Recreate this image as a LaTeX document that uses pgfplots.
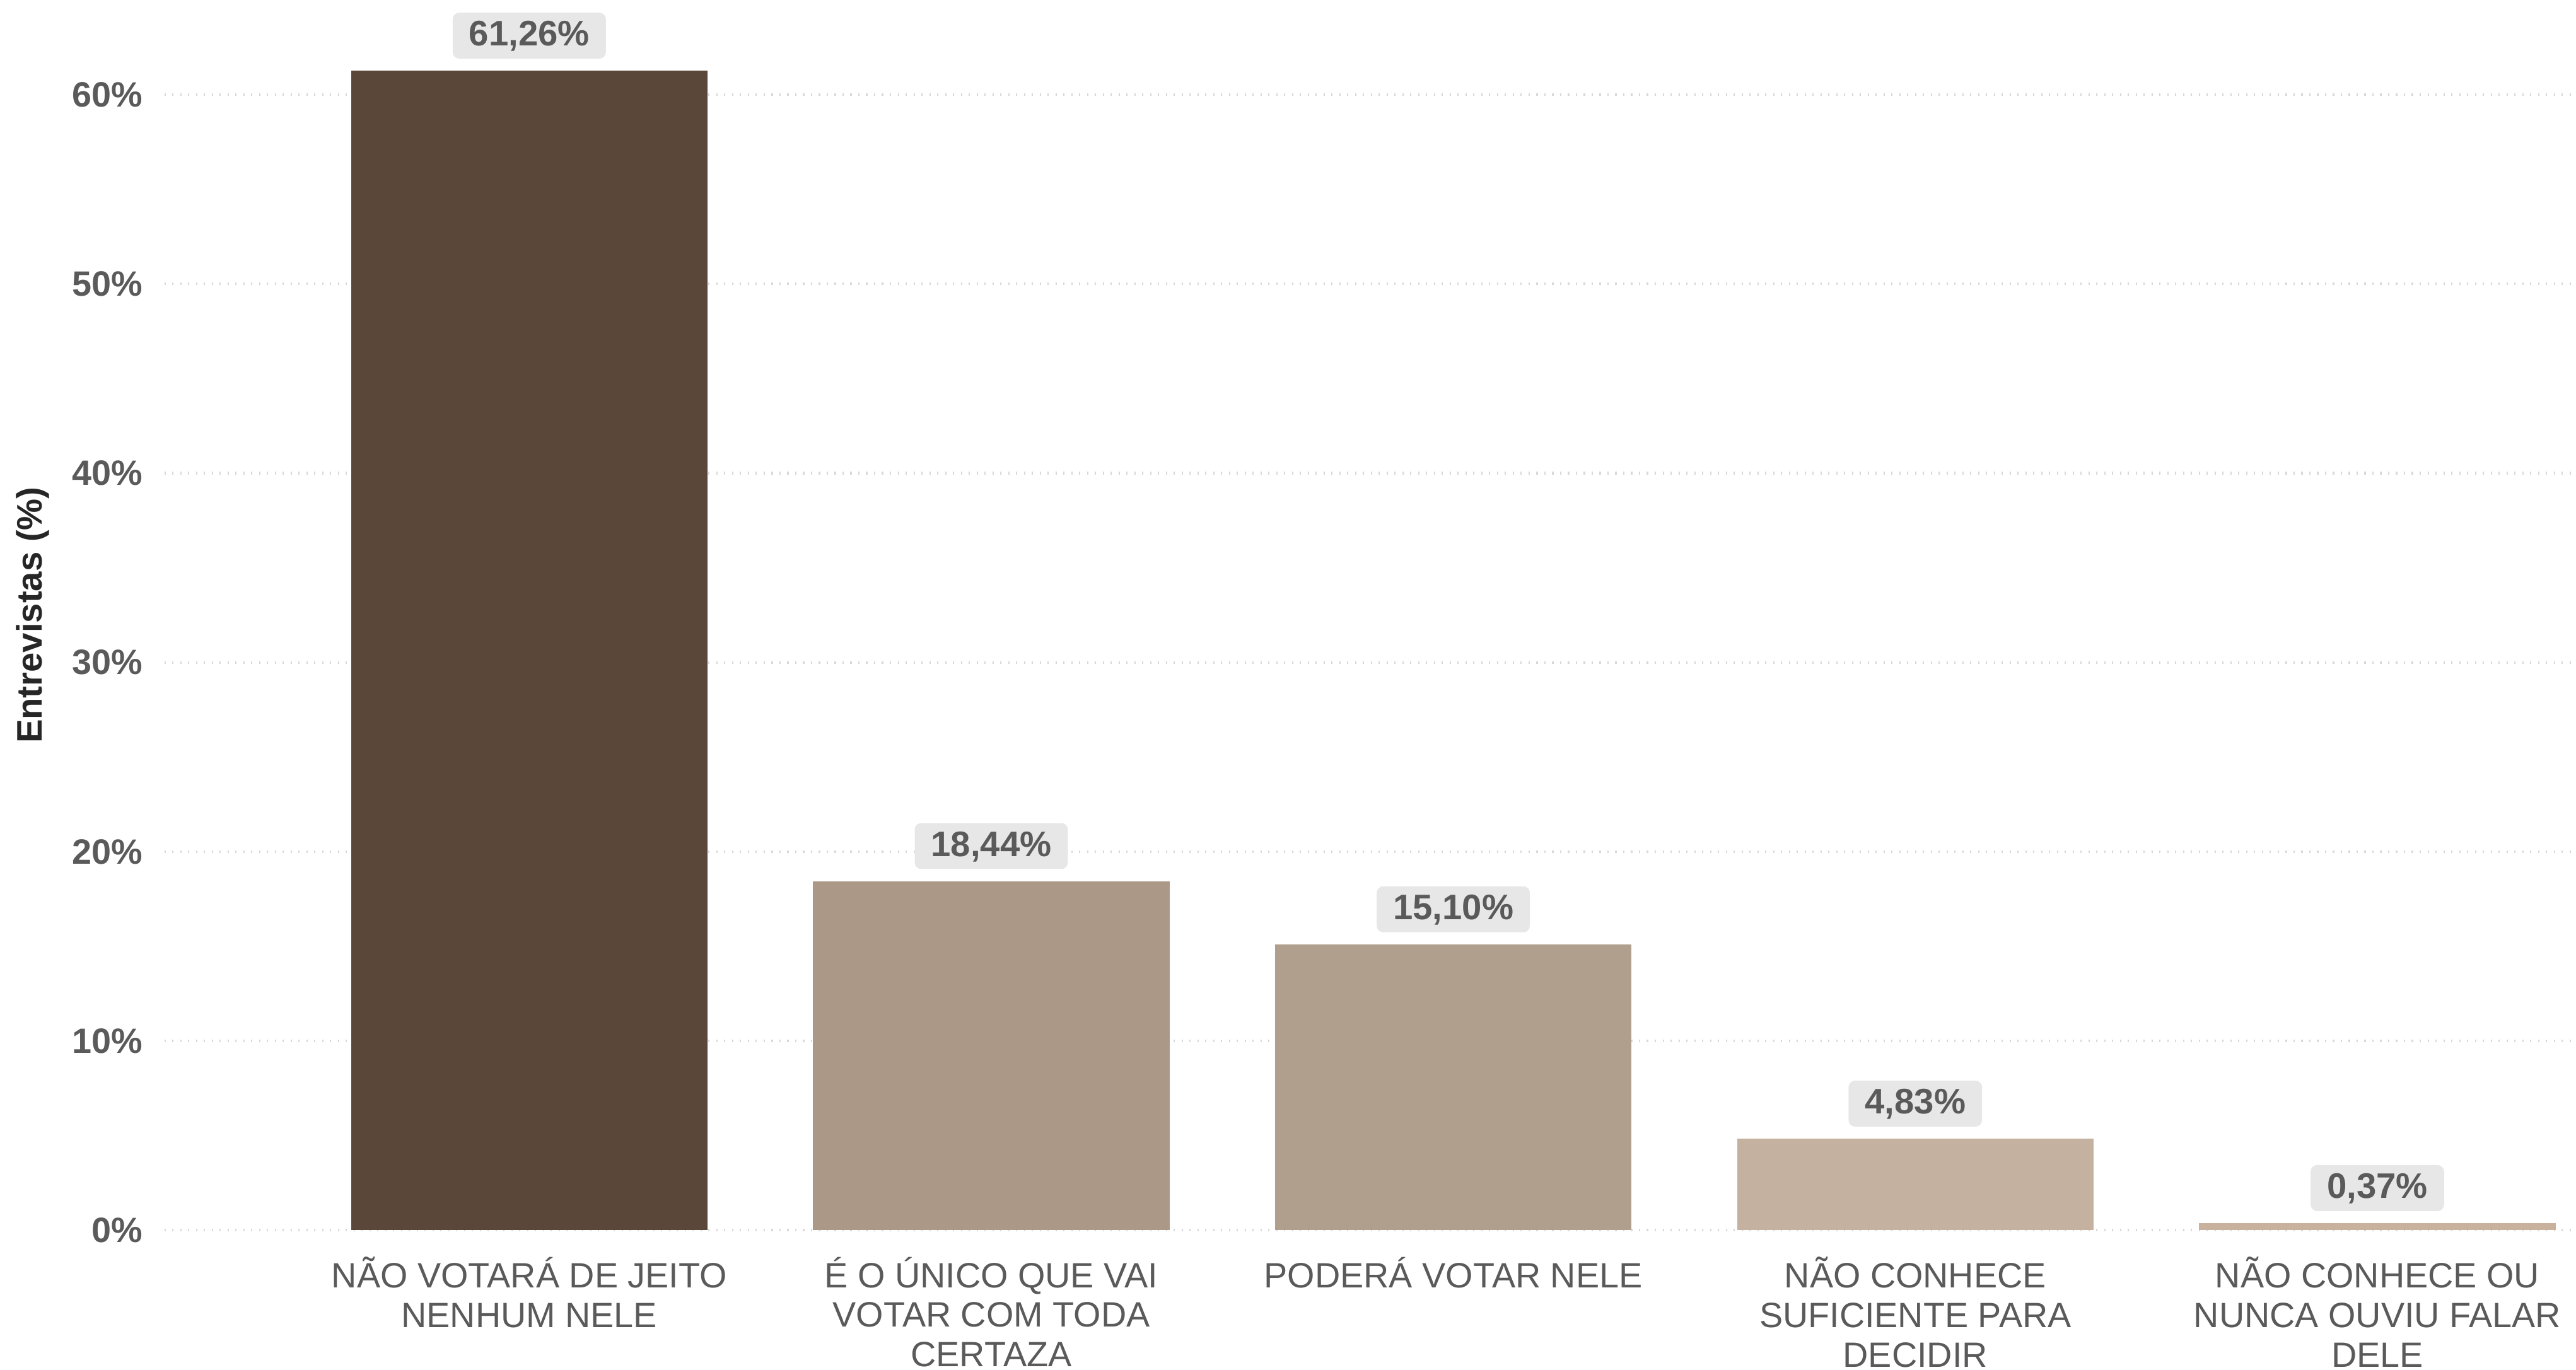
\documentclass[border=0pt]{standalone}
\usepackage{pgfplots}
\pgfplotsset{compat=1.18}
\usepackage{fontspec}
\setmainfont{Liberation Sans}
\definecolor{txt}{HTML}{5A5A5A}
\definecolor{cA}{HTML}{5A4739}
\definecolor{cB}{HTML}{AB9886}
\definecolor{cC}{HTML}{B19F8D}
\definecolor{cD}{HTML}{C5B19F}
\definecolor{cE}{HTML}{C8B29E}
\definecolor{lbl}{HTML}{E7E7E7}
\definecolor{grd}{HTML}{D8D8D8}
\begin{document}
\begin{tikzpicture}
\begin{axis}[
  name=ax,
  scale only axis, width=734pt, height=374.5pt,
  xmin=-0.79, xmax=4.43, ymin=0, ymax=65,
  ybar, bar width=0.772,
  axis line style={draw=none},
  major tick length=0pt,
  xtick={0,1,2,3,4},
  xticklabels={{NÃO VOTARÁ DE JEITO\\NENHUM NELE},{É O ÚNICO QUE VAI\\VOTAR COM TODA\\CERTAZA},{PODERÁ VOTAR NELE},{NÃO CONHECE\\SUFICIENTE PARA\\DECIDIR},{NÃO CONHECE OU\\NUNCA OUVIU FALAR\\DELE}},
  xticklabel style={align=center, anchor=north, inner sep=0pt, yshift=-8pt, font=\fontsize{10.7}{12}\selectfont, text=txt},
  ytick={0,10,20,30,40,50,60},
  yticklabel={\pgfmathprintnumber{\tick}\%},
  yticklabel style={anchor=east, inner sep=0pt, xshift=-6.5pt, font=\fontsize{10.7}{12}\selectfont\bfseries, text=txt},
  /pgf/number format/assume math mode=true,
  ymajorgrids, grid style={dotted, grd, line width=0.8pt},
  ylabel={Entrevistas (\%)},
  ylabel style={at={(axis description cs:-0.0545,0.5)}, anchor=center, font=\fontsize{10.8}{12}\selectfont\bfseries, text=black!85},
  nodes near coords={\pgfmathprintnumber[fixed,fixed zerofill,precision=2,use comma]{\pgfplotspointmeta}\%},
  every node near coord/.append style={anchor=south, fill=lbl, rounded corners=2pt, inner xsep=5pt, inner ysep=2.3pt, text height=7.8pt, text depth=1.6pt, yshift=3.5pt, font=\fontsize{10.8}{12}\selectfont\bfseries, text=txt},
  clip=false,
]
\addplot[fill=cA, draw=none, bar shift=0pt] coordinates {(0,61.26)};
\addplot[fill=cB, draw=none, bar shift=0pt] coordinates {(1,18.44)};
\addplot[fill=cC, draw=none, bar shift=0pt] coordinates {(2,15.10)};
\addplot[fill=cD, draw=none, bar shift=0pt] coordinates {(3,4.83)};
\addplot[fill=cE, draw=none, bar shift=0pt] coordinates {(4,0.37)};
\end{axis}
\pgfresetboundingbox
\path ([shift={(-50pt,-42.5pt)}]ax.south west) rectangle ([shift={(734pt,374.5pt)}]ax.south west);
\end{tikzpicture}
\end{document}
